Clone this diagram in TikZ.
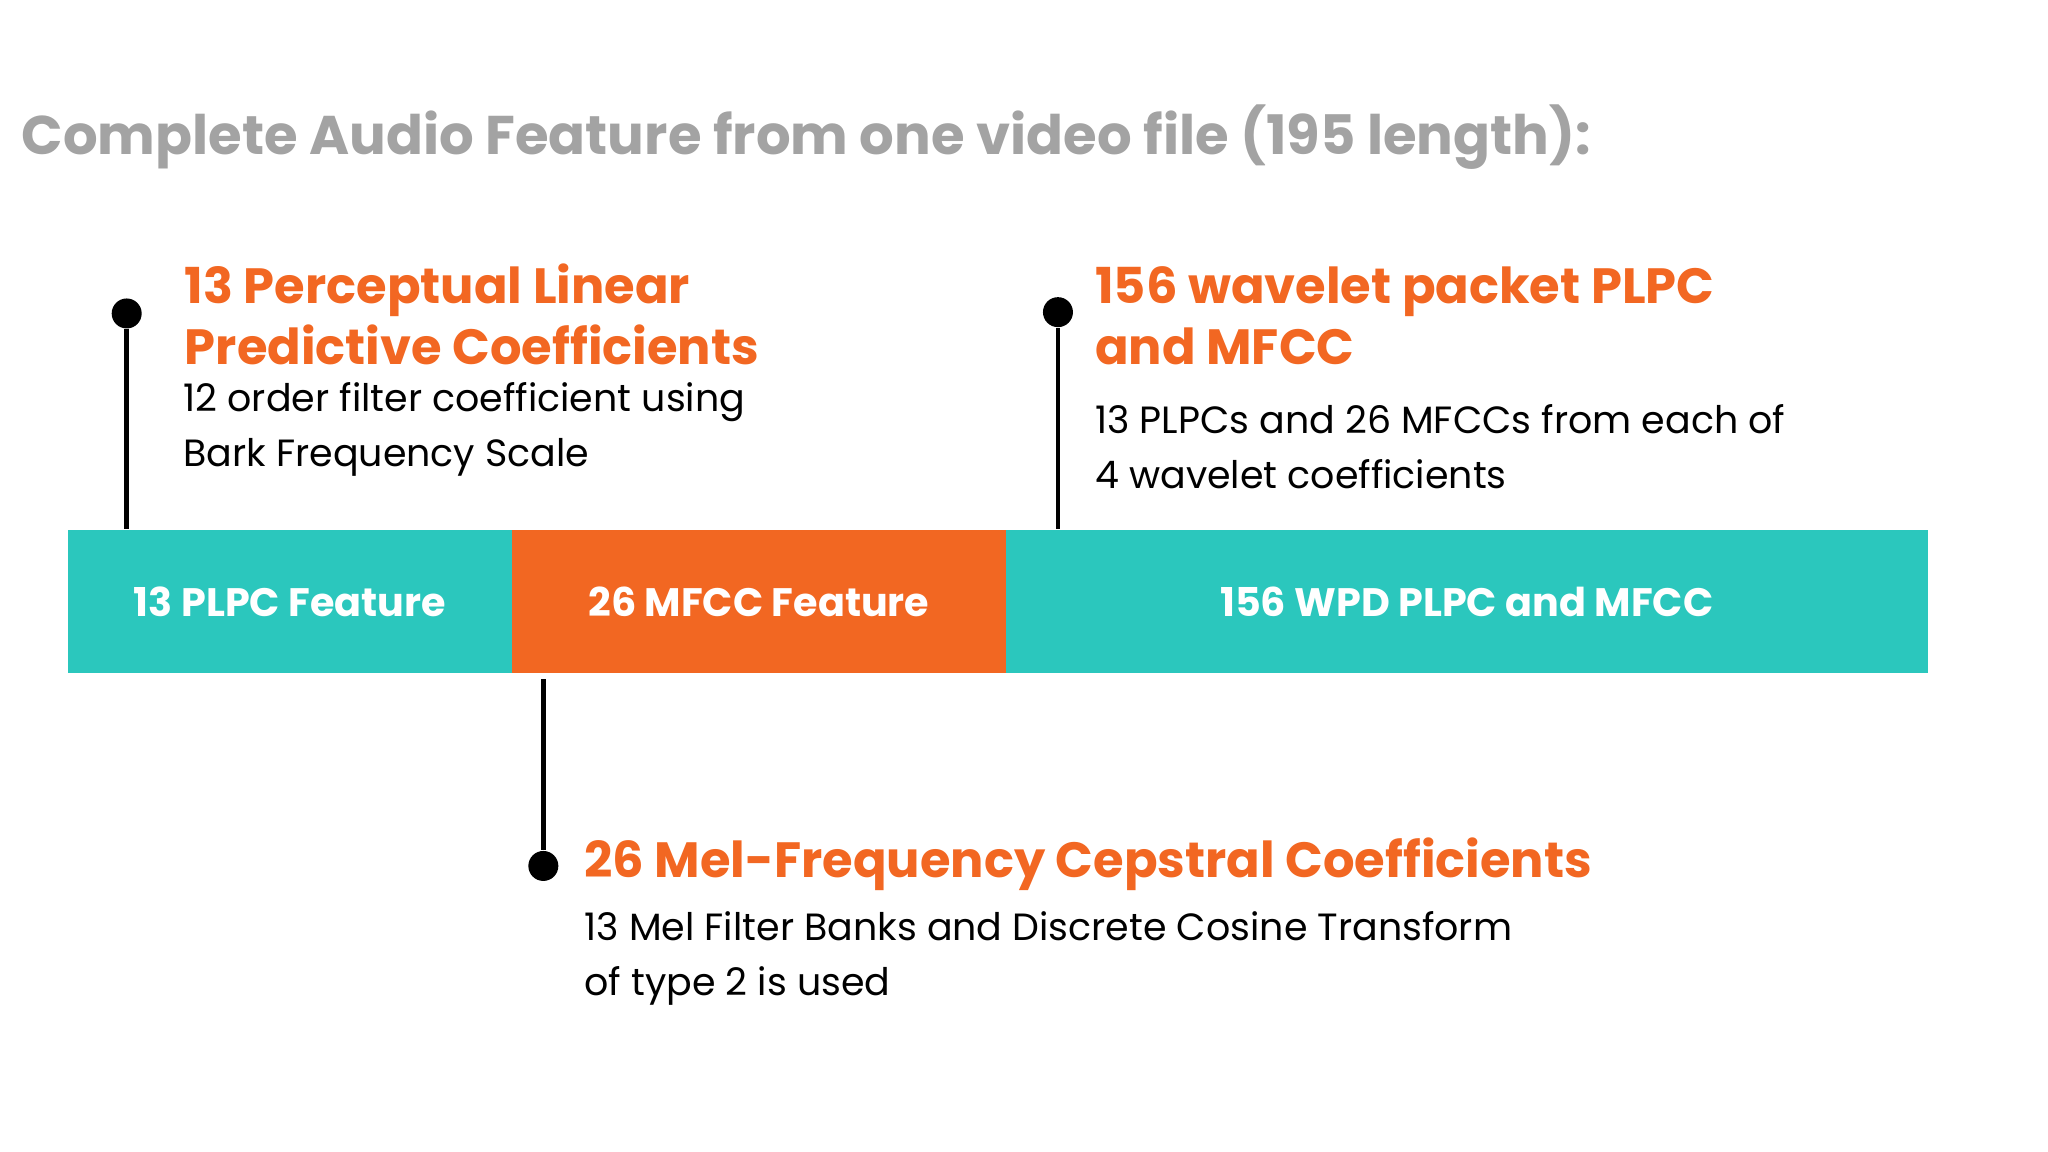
\documentclass[tikz,border=0pt]{standalone}
\usepackage{fontspec}
\setmainfont{Poppins}
\definecolor{teal1}{HTML}{2BC7BD}
\definecolor{orng}{HTML}{F26722}
\definecolor{ttl}{HTML}{A3A3A3}
\begin{document}
\begin{tikzpicture}[x=0.013061cm,y=-0.013061cm,
  seg/.style={draw=none,minimum height=109*0.013061cm,inner sep=0,text=white,font=\fontsize{11.3}{14}\selectfont\bfseries},
  head/.style={anchor=west,inner sep=0,text=orng,font=\fontsize{14.1}{17.4}\selectfont\bfseries,align=left},
  body/.style={anchor=west,inner sep=0,font=\fontsize{10.8}{15.6}\selectfont,align=left},
  dotn/.style={circle,fill=black,inner sep=0,minimum size=0.3cm},
  stem/.style={line width=1.3pt}]
\useasboundingbox (0,0) rectangle (1568,882);
\node[anchor=west,inner sep=0,text=ttl,font=\fontsize{15.5}{19}\selectfont\bfseries] (title) at (16,105) {Complete Audio Feature from one video file (195 length):};
\node[seg,fill=teal1,minimum width=340*0.013061cm] (s1) at (222,460.5) {13 PLPC Feature};
\node[seg,fill=orng,minimum width=378*0.013061cm] (s2) at (581,460.5) {26 MFCC Feature};
\node[seg,fill=teal1,minimum width=706*0.013061cm] (s3) at (1123,460.5) {156 WPD PLPC and MFCC};
% left
\node[dotn] (d1) at (97,240) {};
\coordinate (e1) at (97,405);
\draw[stem] (d1) -- (e1);
\node[head] (h1) at (141,241) {13 Perceptual Linear\\Predictive Coefficients};
\node[body] (b1) at (140,329) {12 order filter coefficient using\\Bark Frequency Scale};
% right
\node[dotn] (d2) at (810,239) {};
\coordinate (e2) at (810,405);
\draw[stem] (d2) -- (e2);
\node[head] (h2) at (838,242) {156 wavelet packet PLPC\\and MFCC};
\node[body] (b2) at (838,342) {13 PLPCs and 26 MFCCs from each of\\4 wavelet coefficients};
% bottom
\node[dotn] (d3) at (416,663) {};
\coordinate (e3) at (416,520);
\draw[stem] (e3) -- (d3);
\node[head] (h3) at (447,662) {26 Mel-Frequency Cepstral Coefficients};
\node[body] (b3) at (447,734) {13 Mel Filter Banks and Discrete Cosine Transform\\of type 2 is used};
\end{tikzpicture}
\end{document}
